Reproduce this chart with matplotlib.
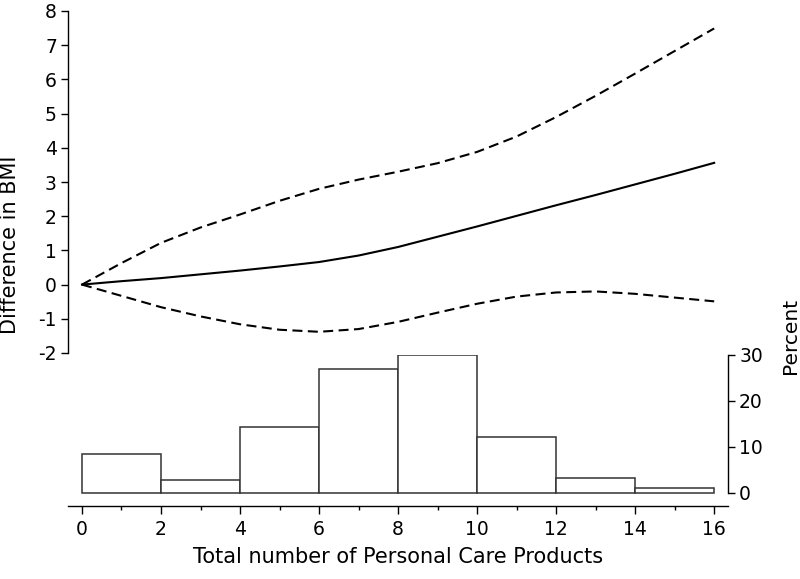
import matplotlib
matplotlib.use("Agg")
import matplotlib.pyplot as plt

plt.rcParams['font.family'] = ['DejaVu Sans']

# Data
x_vals = [0, 1, 2, 3, 4, 5, 6, 7, 8, 9, 10, 11, 12, 13, 14, 15, 16]
estimate = [0, 0.10, 0.19, 0.30, 0.41, 0.53, 0.66, 0.85, 1.10, 1.40, 1.70, 2.01, 2.32, 2.62, 2.93, 3.24, 3.56]
upper_ci = [0, 0.63, 1.22, 1.67, 2.05, 2.45, 2.80, 3.07, 3.30, 3.55, 3.88, 4.33, 4.90, 5.52, 6.17, 6.83, 7.49]
lower_ci = [0, -0.33, -0.66, -0.93, -1.16, -1.32, -1.38, -1.30, -1.09, -0.82, -0.56, -0.35, -0.23, -0.20, -0.27, -0.38, -0.49]

bin_edges = [0, 2, 4, 6, 8, 10, 12, 14, 16]
percents = [8.4, 2.8, 14.4, 26.9, 30.0, 12.2, 3.3, 1.1]

xticks = [0, 2, 4, 6, 8, 10, 12, 14, 16]
yticks_top = [-2, -1, 0, 1, 2, 3, 4, 5, 6, 7, 8]
yticks_pct = [0, 10, 20, 30]

W, H = 800, 579
fig = plt.figure(figsize=(8, 5.79), dpi=100)

def fx(px):
    return px / W

def fy(py):
    return 1 - py / H

xlim = (-0.354, 16.35)
TICK_FS = 13.5

# Top axes
ax1 = fig.add_axes([fx(68), fy(353), fx(728) - fx(68), fy(11) - fy(353)])
ax1.plot(x_vals, estimate, color='black', lw=1.5)
ax1.plot(x_vals, upper_ci, color='black', lw=1.5, dashes=(4.8, 2.6))
ax1.plot(x_vals, lower_ci, color='black', lw=1.5, dashes=(4.8, 2.6))
ax1.set_xlim(*xlim)
ax1.set_ylim(-2, 8)
ax1.set_yticks(yticks_top)
ax1.set_yticklabels([str(v) for v in yticks_top])
ax1.set_xticks([])
for s in ['top', 'right', 'bottom']:
    ax1.spines[s].set_visible(False)
ax1.spines['left'].set_linewidth(1.0)
ax1.tick_params(axis='y', direction='out', length=5, width=1.0, labelsize=TICK_FS, pad=3)
ax1.patch.set_alpha(0)

# Bottom axes (histogram)
ax2 = fig.add_axes([fx(68), fy(506), fx(728) - fx(68), fy(355) - fy(506)])
widths = [bin_edges[i + 1] - bin_edges[i] for i in range(len(percents))]
ax2.bar(bin_edges[:-1], percents, width=widths, align='edge',
        facecolor='white', edgecolor='#333333', linewidth=1.1)
ax2.set_xlim(*xlim)
ax2.set_ylim(-2.9, 30)
ax2.set_xticks(xticks)
ax2.set_xticklabels([str(v) for v in xticks])
ax2.set_xticks(list(range(1, 16, 2)), minor=True)
ax2.yaxis.tick_right()
ax2.set_yticks(yticks_pct)
ax2.set_yticklabels([str(v) for v in yticks_pct])
for s in ['top', 'left']:
    ax2.spines[s].set_visible(False)
ax2.spines['right'].set_bounds(0, 30)
ax2.spines['right'].set_linewidth(1.0)
ax2.spines['bottom'].set_linewidth(1.0)
ax2.tick_params(axis='x', which='major', direction='out', length=6, width=1.0, labelsize=TICK_FS, pad=4)
ax2.tick_params(axis='x', which='minor', direction='out', length=3, width=1.0)
ax2.tick_params(axis='y', direction='out', length=5, width=1.0, labelsize=TICK_FS, pad=3)
ax2.patch.set_alpha(0)

fig.text(fx(16), fy(245), 'Difference in BMI', rotation=90, rotation_mode='anchor',
         ha='center', va='baseline', fontsize=15)
fig.text(fx(398), fy(563), 'Total number of Personal Care Products', ha='center',
         va='baseline', fontsize=15)
fig.text(fx(796), fy(336), 'Percent', rotation=90, rotation_mode='anchor',
         ha='center', va='baseline', fontsize=14.5)

fig.savefig('out.png', dpi=100, facecolor='white')
